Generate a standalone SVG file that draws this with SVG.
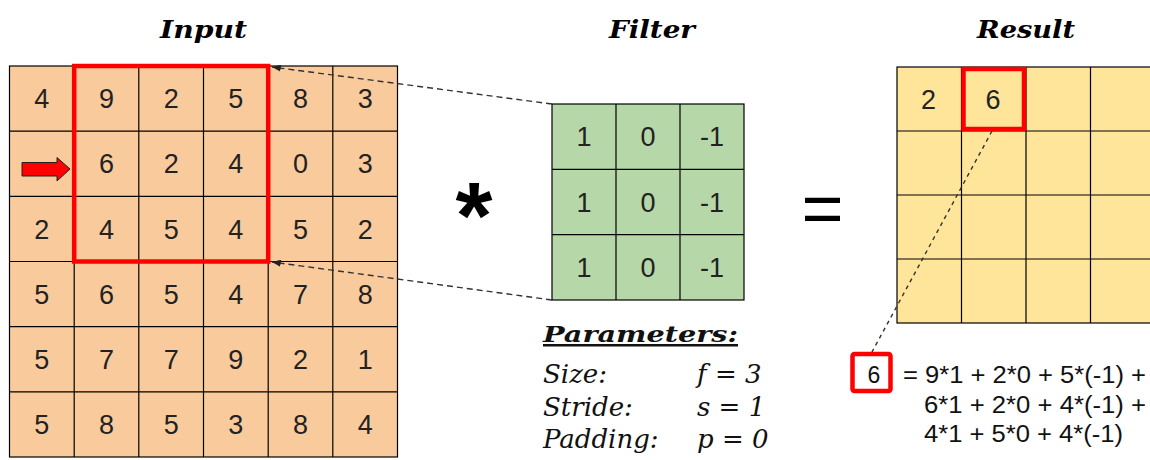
<svg xmlns="http://www.w3.org/2000/svg" width="1150" height="460" viewBox="0 0 1150 460">
<style>
.title{font-family:"DejaVu Serif",serif;font-weight:bold;font-style:italic;font-size:25px;fill:#000;text-anchor:middle}
.num{font-family:"Liberation Sans",Arial,sans-serif;font-size:27px;fill:#222;text-anchor:middle}
.inp{fill:#f9cb9c;stroke:#000;stroke-width:1.2}
.flt{fill:#b6d7a8;stroke:#000;stroke-width:1.2}
.res{fill:#ffe599;stroke:#000;stroke-width:1.2}
.grid{stroke:#000;stroke-width:1.2;fill:none}
.red{fill:none;stroke:#ff0000;stroke-width:4.5}
.dash{fill:none;stroke:#333;stroke-width:1.4;stroke-dasharray:6 4}
.dot{fill:none;stroke:#333;stroke-width:1.4;stroke-dasharray:4 4}
.par{font-family:"DejaVu Serif",serif;font-style:italic;font-size:26px;fill:#111}
.eq{font-family:"Liberation Sans",Arial,sans-serif;font-size:23px;fill:#111}
</style>
<defs>
<marker id="ah" viewBox="0 0 10 8" refX="10" refY="4" markerWidth="9" markerHeight="7" markerUnits="userSpaceOnUse" orient="auto">
<path d="M0,0 L10,4 L0,8 Z" fill="#222"/>
</marker>
</defs>
<rect width="1150" height="460" fill="#fff"/>

<g id="titles">
<text class="title" x="203.5" y="38" textLength="87" lengthAdjust="spacingAndGlyphs">Input</text>
<text class="title" x="652" y="38" textLength="86" lengthAdjust="spacingAndGlyphs">Filter</text>
<text class="title" x="1026" y="38" textLength="98" lengthAdjust="spacingAndGlyphs">Result</text>
</g>

<g id="input">
<rect class="inp" x="9.5" y="66" width="388" height="391"/>
<path class="grid" d="M74.2,66V457M138.8,66V457M203.5,66V457M268.2,66V457M332.8,66V457M9.5,131.2H397.5M9.5,196.3H397.5M9.5,261.5H397.5M9.5,326.7H397.5M9.5,391.8H397.5"/>
<g class="num">
<text x="41.8" y="108.3">4</text><text x="106.5" y="108.3">9</text><text x="171.2" y="108.3">2</text><text x="235.8" y="108.3">5</text><text x="300.5" y="108.3">8</text><text x="365.2" y="108.3">3</text>
<text x="106.5" y="173.4">6</text><text x="171.2" y="173.4">2</text><text x="235.8" y="173.4">4</text><text x="300.5" y="173.4">0</text><text x="365.2" y="173.4">3</text>
<text x="41.8" y="238.6">2</text><text x="106.5" y="238.6">4</text><text x="171.2" y="238.6">5</text><text x="235.8" y="238.6">4</text><text x="300.5" y="238.6">5</text><text x="365.2" y="238.6">2</text>
<text x="41.8" y="303.8">5</text><text x="106.5" y="303.8">6</text><text x="171.2" y="303.8">5</text><text x="235.8" y="303.8">4</text><text x="300.5" y="303.8">7</text><text x="365.2" y="303.8">8</text>
<text x="41.8" y="369">5</text><text x="106.5" y="369">7</text><text x="171.2" y="369">7</text><text x="235.8" y="369">9</text><text x="300.5" y="369">2</text><text x="365.2" y="369">1</text>
<text x="41.8" y="434.1">5</text><text x="106.5" y="434.1">8</text><text x="171.2" y="434.1">5</text><text x="235.8" y="434.1">3</text><text x="300.5" y="434.1">8</text><text x="365.2" y="434.1">4</text>
</g>
<rect class="red" x="74.2" y="66" width="194" height="195.5"/>
<path d="M22,162.5 H57 V157.5 L70,169 L57,181 V176 H22 Z" fill="#ff0000" stroke="#222" stroke-width="1"/>
</g>

<g id="operator-conv">
<text x="474" y="248" font-family="'Liberation Sans',Arial,sans-serif" font-weight="bold" font-size="95" text-anchor="middle" fill="#000">*</text>
</g>

<g id="filter">
<rect class="flt" x="552" y="104" width="192" height="196"/>
<path class="grid" d="M616,104V300M680,104V300M552,169.3H744M552,234.7H744"/>
<g class="num">
<text x="584" y="146.3">1</text><text x="648" y="146.3">0</text><text x="712" y="146.3">-1</text>
<text x="584" y="211.6">1</text><text x="648" y="211.6">0</text><text x="712" y="211.6">-1</text>
<text x="584" y="276.9">1</text><text x="648" y="276.9">0</text><text x="712" y="276.9">-1</text>
</g>
</g>

<g id="operator-eq">
<text x="822.5" y="233" font-family="'Liberation Sans',Arial,sans-serif" font-size="72" text-anchor="middle" fill="#000">=</text>
</g>

<g id="result">
<rect class="res" x="897" y="67" width="258" height="256"/>
<path class="grid" d="M961.5,67V323M1026,67V323M1090.5,67V323M897,131H1155M897,195H1155M897,259H1155"/>
<g class="num">
<text x="928.5" y="108.8">2</text><text x="993" y="108.8">6</text>
</g>
<rect class="red" x="963.5" y="69" width="60.5" height="60"/>
</g>

<g id="parameters">
<text x="543" y="342" font-family="'DejaVu Serif',serif" font-weight="bold" font-style="italic" font-size="23" fill="#111" textLength="195" lengthAdjust="spacingAndGlyphs">Parameters:</text>
<rect x="543" y="344" width="195" height="2.5" fill="#111"/>
<text class="par" x="543" y="383">Size:</text>
<text class="par" x="543" y="416">Stride:</text>
<text class="par" x="543" y="448">Padding:</text>
<text class="par" x="697" y="383">f = 3</text>
<text class="par" x="697" y="416">s = 1</text>
<text class="par" x="697" y="448">p = 0</text>
</g>

<g id="calculation">
<rect x="852.5" y="354" width="38" height="37" rx="2" fill="#fff" stroke="#ff0000" stroke-width="4.5"/>
<text class="eq" x="874" y="383" text-anchor="middle">6</text>
<text class="eq" x="903" y="383" textLength="243" lengthAdjust="spacingAndGlyphs">= 9*1 + 2*0 + 5*(-1) +</text>
<text class="eq" x="924" y="413" textLength="222" lengthAdjust="spacingAndGlyphs">6*1 + 2*0 + 4*(-1) +</text>
<text class="eq" x="924" y="442" textLength="199" lengthAdjust="spacingAndGlyphs">4*1 + 5*0 + 4*(-1)</text>
</g>

<g id="connectors">
<line class="dash" x1="552" y1="104" x2="272" y2="67" marker-end="url(#ah)"/>
<line class="dash" x1="552" y1="300" x2="272" y2="262" marker-end="url(#ah)"/>
<line class="dot" x1="992" y1="131" x2="872" y2="352"/>
</g>
</svg>
